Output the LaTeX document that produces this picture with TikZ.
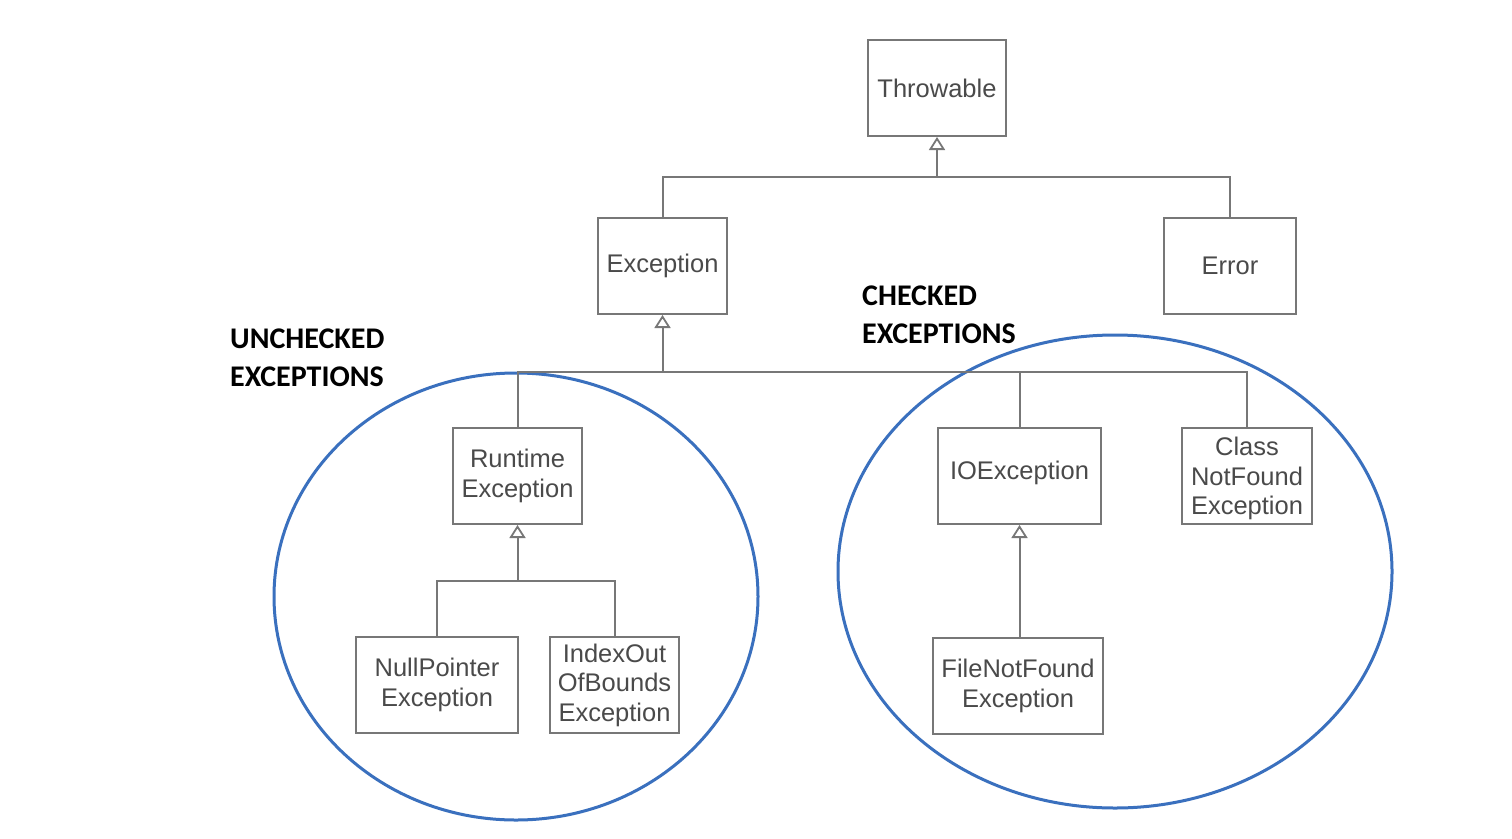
\documentclass[tikz,border=0pt]{standalone}
\usepackage{fontspec}
\setmainfont{Liberation Sans}
\newfontfamily\labelfont{Carlito}
\usetikzlibrary{arrows.meta}
\definecolor{boxgray}{HTML}{777777}
\definecolor{txtgray}{HTML}{4A4A4A}
\definecolor{ellblue}{HTML}{3A70BE}
\tikzset{
  cls/.style={draw=boxgray, line width=2pt, fill=white, inner sep=0pt, align=center,
    text=txtgray, font=\fontsize{25.5}{29.5}\selectfont},
  conn/.style={draw=boxgray, line width=2pt},
  inh/.style={conn, -{Triangle[open, width=16pt, length=13pt, line width=1.8pt]}},
  grp/.style={draw=ellblue, line width=3pt},
  lbl/.style={anchor=north west, align=left, inner sep=0pt,
    font=\labelfont\bfseries\fontsize{30}{38}\selectfont}
}
\begin{document}
\begin{tikzpicture}[x=1pt,y=-1pt]
\useasboundingbox (0,0) rectangle (1512,838);
\fill[white] (0,0) rectangle (1512,838);

% group ellipses
\draw[grp] (516,596.5) ellipse [x radius=242, y radius=223.5];
\draw[grp] (1115,571.5) ellipse [x radius=277, y radius=236.5];

% classes
\node[cls, minimum width=138pt, minimum height=96pt] (thr) at (937,88) {Throwable};
\node[cls, minimum width=129pt, minimum height=96pt] (exc) at (662.5,266) {Exception};
\node[cls, minimum width=132pt, minimum height=96pt] (err) at (1230,266) {Error};
\node[cls, minimum width=129pt, minimum height=96pt] (rte) at (517.5,476) {Runtime\\Exception};
\node[cls, minimum width=162pt, minimum height=96pt] (npe) at (437,685) {NullPointer\\Exception};
\node[cls, minimum width=129pt, minimum height=96pt] (ioob) at (614.5,685) {IndexOut\\OfBounds\\Exception};
\node[cls, minimum width=163pt, minimum height=96pt, text depth=12pt] (ioe) at (1019.5,476) {IOException};
\node[cls, minimum width=130pt, minimum height=96pt, text depth=0pt] (cnf) at (1247,476) {Class\\NotFound\\Exception};
\node[cls, minimum width=170pt, minimum height=96pt] (fnf) at (1018,686) {FileNotFound\\Exception};

% junction coordinates
\coordinate (j1) at (937,177);
\coordinate (j2) at (662.5,372);
\coordinate (j3) at (517.5,581);

% Throwable tree
\draw[conn] (exc.north) |- (j1) -| (err.north);
\draw[inh] (j1) -- (thr.south);
% Exception tree
\draw[conn] (rte.north) |- (j2);
\draw[conn] (j2) -| (cnf.north);
\draw[conn] (ioe.north) -- (ioe.north |- j2);
\draw[inh] (j2) -- (exc.south);
% RuntimeException tree
\draw[conn] (npe.north) |- (j3) -| (ioob.north);
\draw[inh] (j3) -- (rte.south);
% IOException tree
\draw[inh] (ioe.south |- fnf.north) -- (ioe.south);

% labels
\node[lbl] (unch) at (230,329) {UNCHECKED\\EXCEPTIONS};
\node[lbl] (chk) at (862,286) {CHECKED\\EXCEPTIONS};
\end{tikzpicture}
\end{document}
